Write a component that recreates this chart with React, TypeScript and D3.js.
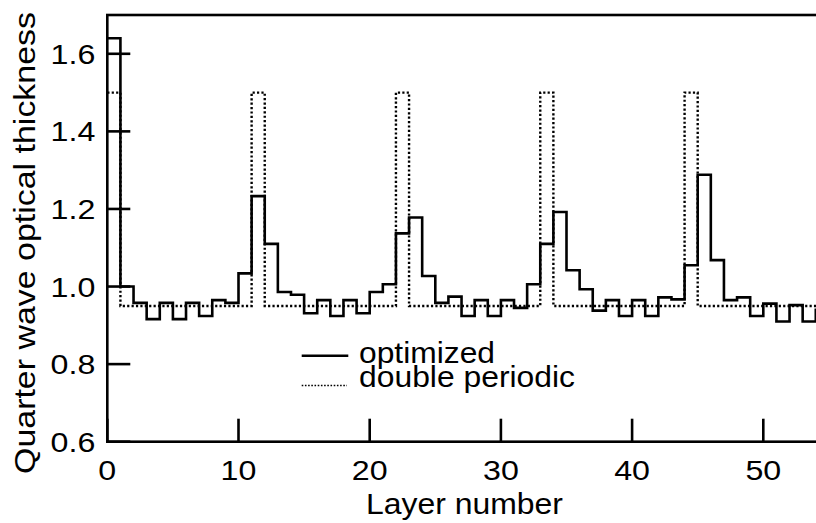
import React from "react";
import * as d3 from "d3";

const optimized: number[] = [
  1.64, 1.0, 0.958, 0.916, 0.958, 0.916, 0.958, 0.924, 0.965, 0.958,
  1.034, 1.233, 1.11, 0.986, 0.979, 0.931, 0.965, 0.924, 0.965, 0.931,
  0.986, 1.006, 1.137, 1.178, 1.027, 0.958, 0.974, 0.924, 0.965, 0.924,
  0.965, 0.945, 1.006, 1.11, 1.192, 1.042, 0.993, 0.938, 0.965, 0.924,
  0.965, 0.924, 0.972, 0.967, 1.055, 1.288, 1.068, 0.965, 0.972, 0.924,
  0.956, 0.91, 0.952, 0.91, 0.94,
];

const doublePeriodic: number[] = [
  1.5, 0.95, 0.95, 0.95, 0.95, 0.95, 0.95, 0.95, 0.95, 0.95,
  0.95, 1.5, 0.95, 0.95, 0.95, 0.95, 0.95, 0.95, 0.95, 0.95,
  0.95, 0.95, 1.5, 0.95, 0.95, 0.95, 0.95, 0.95, 0.95, 0.95,
  0.95, 0.95, 0.95, 1.5, 0.95, 0.95, 0.95, 0.95, 0.95, 0.95,
  0.95, 0.95, 0.95, 0.95, 1.5, 0.95, 0.95, 0.95, 0.95, 0.95,
  0.95, 0.95, 0.95, 0.95, 0.95,
];

const xTicks: number[] = [0, 10, 20, 30, 40, 50];
const yTicks: number[] = [0.6, 0.8, 1.0, 1.2, 1.4, 1.6];
const xTitle = "Layer number";
const yTitle = "Quarter wave optical thickness";
const legendLabels: string[] = ["optimized", "double periodic"];

const W = 816;
const H = 523;
const FONT = "'Liberation Sans', Arial, Helvetica, sans-serif";

export default function App() {
  const x = d3.scaleLinear().domain([0, 55]).range([107.3, 828.9]);
  const y = d3.scaleLinear().domain([0.6, 1.7]).range([441.7, 15]);

  const toPts = (vals: number[]): [number, number][] => {
    const pts: [number, number][] = vals.map((v, i) => [i, v]);
    pts.push([vals.length, vals[vals.length - 1]]);
    return pts;
  };
  const line = d3
    .line<[number, number]>()
    .x((d) => x(d[0]))
    .y((d) => y(d[1]))
    .curve(d3.curveStepAfter);

  const tickLen = 23;
  const sx = 1.13;

  return (
    <svg
      width={W}
      height={H}
      style={{ position: "absolute", left: 0, top: 0, background: "#fff" }}
      fontFamily={FONT}
    >
      <rect x={0} y={0} width={W} height={H} fill="#fff" />
      {/* data */}
      <path
        d={line(toPts(doublePeriodic)) || ""}
        fill="none"
        stroke="#000"
        strokeWidth={2.4}
        strokeDasharray="2.2 2.2"
      />
      <path
        d={line(toPts(optimized)) || ""}
        fill="none"
        stroke="#000"
        strokeWidth={2.6}
        strokeLinejoin="miter"
      />
      {/* frame */}
      <rect
        x={x(0)}
        y={y(1.7)}
        width={x(55) - x(0)}
        height={y(0.6) - y(1.7)}
        fill="none"
        stroke="#000"
        strokeWidth={2.6}
      />
      {/* y ticks */}
      {yTicks.map((t) => (
        <g key={"y" + t}>
          <line x1={x(0)} x2={x(0) + tickLen} y1={y(t)} y2={y(t)} stroke="#000" strokeWidth={2.6} />
          <g transform={`translate(${x(0) - 12},${y(t) + 10}) scale(${sx},1)`}>
            <text x={0} y={0} textAnchor="end" fontSize={28.5} fill="#000">
              {t.toFixed(1)}
            </text>
          </g>
        </g>
      ))}
      {/* x ticks */}
      {xTicks.map((t) => (
        <g key={"x" + t}>
          <line x1={x(t)} x2={x(t)} y1={y(0.6)} y2={y(0.6) - tickLen} stroke="#000" strokeWidth={2.6} />
          <g transform={`translate(${x(t)},${y(0.6) + 38.5}) scale(${sx},1)`}>
            <text x={0} y={0} textAnchor="middle" fontSize={28.5} fill="#000">
              {t}
            </text>
          </g>
        </g>
      ))}
      {/* titles */}
      <text
        x={464.5}
        y={514.3}
        textAnchor="middle"
        fontSize={29}
        fill="#000"
        textLength={197}
        lengthAdjust="spacingAndGlyphs"
      >
        {xTitle}
      </text>
      <text
        transform={`translate(35,243) rotate(-90)`}
        x={0}
        y={0}
        textAnchor="middle"
        fontSize={29}
        fill="#000"
        textLength={462}
        lengthAdjust="spacingAndGlyphs"
      >
        {yTitle}
      </text>
      {/* legend */}
      <line x1={301.7} x2={348.3} y1={355.7} y2={355.7} stroke="#000" strokeWidth={2.6} />
      <text x={359} y={362.7} fontSize={29} fill="#000" textLength={136} lengthAdjust="spacingAndGlyphs">
        {legendLabels[0]}
      </text>
      <line
        x1={301.7}
        x2={347}
        y1={385.5}
        y2={385.5}
        stroke="#000"
        strokeWidth={1.6}
        strokeDasharray="1.6 1.6"
      />
      <text x={359} y={386.5} fontSize={29} fill="#000" textLength={216} lengthAdjust="spacingAndGlyphs">
        {legendLabels[1]}
      </text>
    </svg>
  );
}
